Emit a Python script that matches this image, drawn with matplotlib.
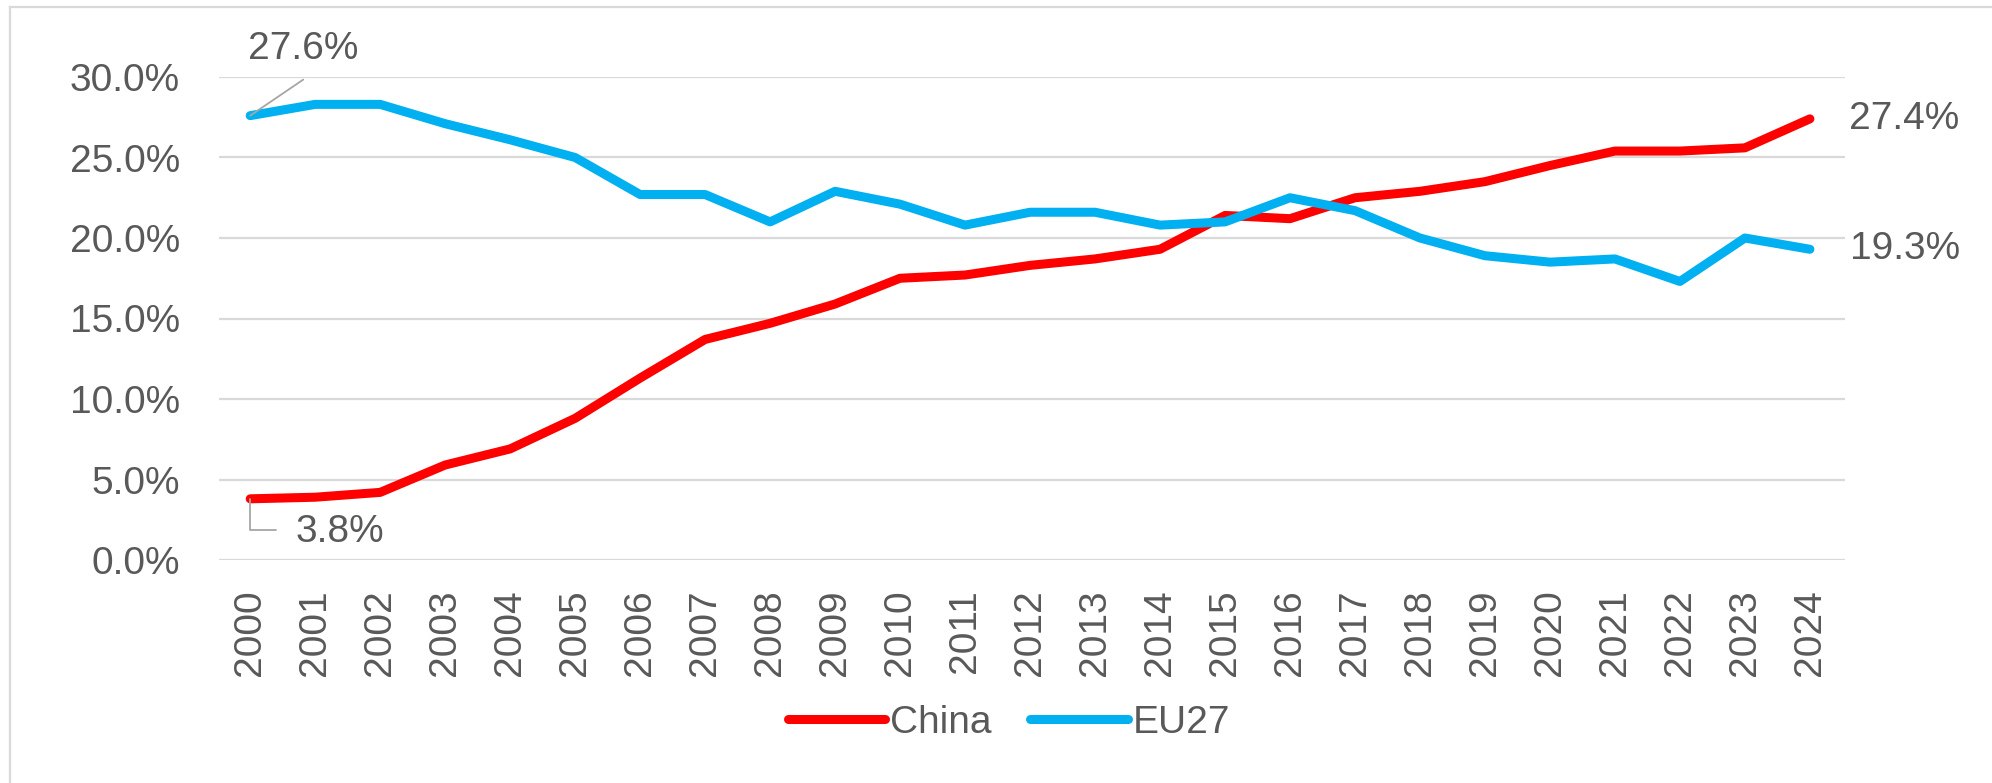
import matplotlib
matplotlib.use("Agg")
import matplotlib.pyplot as plt
from matplotlib.lines import Line2D
from matplotlib.ticker import PercentFormatter

years = [str(y) for y in range(2000, 2025)]
china = [3.8, 3.9, 4.2, 5.9, 6.9, 8.8, 11.3, 13.7, 14.7, 15.9, 17.5, 17.7, 18.3,
         18.7, 19.3, 21.4, 21.2, 22.5, 22.9, 23.5, 24.5, 25.4, 25.4, 25.6, 27.4]
eu27 = [27.6, 28.3, 28.3, 27.1, 26.1, 25.0, 22.7, 22.7, 21.0, 22.9, 22.1, 20.8, 21.6,
        21.6, 20.8, 21.0, 22.5, 21.7, 20.0, 18.9, 18.5, 18.7, 17.3, 20.0, 19.3]
yticks = [0, 5, 10, 15, 20, 25, 30]

W, H = 1992, 783
fig = plt.figure(figsize=(W / 100, H / 100), dpi=100)
plt.rcParams['font.family'] = ['Liberation Sans', 'DejaVu Sans']
txt = '#595959'
grid = '#d9d9d9'
red = '#ff0000'
blue = '#00b0f0'
fs = 28

# outer chart border (left and top visible)
fig.add_artist(Line2D([10 / W, 10 / W], [0, 1 - 7 / H], transform=fig.transFigure,
                      color=grid, lw=1.6))
fig.add_artist(Line2D([10 / W, 1], [1 - 7 / H, 1 - 7 / H], transform=fig.transFigure,
                      color=grid, lw=1.6))

ax = fig.add_axes([219 / W, 1 - 560 / H, (1845 - 219) / W, (560 - 77) / H])
x = list(range(len(years)))
ax.set_xlim(-0.48, len(years) - 1 + 0.54)
ax.set_ylim(0, 30)
ax.set_yticks(yticks)
ax.yaxis.set_major_formatter(PercentFormatter(decimals=1))
ax.set_xticks(x)
ax.set_xticklabels(years, rotation=90)
ax.grid(axis='y', color=grid, lw=1.6)
ax.set_axisbelow(True)
for s in ax.spines.values():
    s.set_visible(False)
ax.tick_params(axis='both', length=0, labelsize=fs, labelcolor=txt)
ax.tick_params(axis='y', pad=28)
ax.tick_params(axis='x', pad=21)

l1, = ax.plot(x, china, color=red, lw=6.5, solid_capstyle='round', solid_joinstyle='round',
              label='China', clip_on=False, zorder=3)
l2, = ax.plot(x, eu27, color=blue, lw=6.5, solid_capstyle='round', solid_joinstyle='round',
              label='EU27', clip_on=False, zorder=3)

lead = dict(arrowstyle='-', color='#a6a6a6', lw=1.3, shrinkA=0, shrinkB=0)
# 27.6% label with leader
ax.annotate('', xy=(0, eu27[0]), xytext=(53, 36), textcoords='offset pixels',
            arrowprops=lead, annotation_clip=False)
ax.annotate(f'{eu27[0]:.1f}%', xy=(0, eu27[0]), xytext=(-2, 67), textcoords='offset pixels',
            ha='left', va='center', fontsize=fs, color=txt, annotation_clip=False)
# 3.8% label with elbow leader
ax.annotate('', xy=(0, china[0]), xytext=(26, -31), textcoords='offset pixels',
            arrowprops=dict(lead, connectionstyle='angle,angleA=0,angleB=90,rad=0'),
            annotation_clip=False)
ax.annotate(f'{china[0]:.1f}%', xy=(0, china[0]), xytext=(90, -33), textcoords='offset pixels',
            ha='center', va='center', fontsize=fs, color=txt, annotation_clip=False)
# end labels
n = len(years) - 1
ax.annotate(f'{china[n]:.1f}%', xy=(n, china[n]), xytext=(39, 0), textcoords='offset pixels',
            ha='left', va='center', fontsize=fs, color=txt, annotation_clip=False)
ax.annotate(f'{eu27[n]:.1f}%', xy=(n, eu27[n]), xytext=(40, 0), textcoords='offset pixels',
            ha='left', va='center', fontsize=fs, color=txt, annotation_clip=False)

fig.legend(handles=[l1, l2], loc='center', bbox_to_anchor=(1009 / W, 1 - 723 / H),
           ncol=2, frameon=False, fontsize=fs, labelcolor=txt, handlelength=2.5,
           handletextpad=0.12, columnspacing=1.0)

fig.savefig('out.png', dpi=100, facecolor='white')
